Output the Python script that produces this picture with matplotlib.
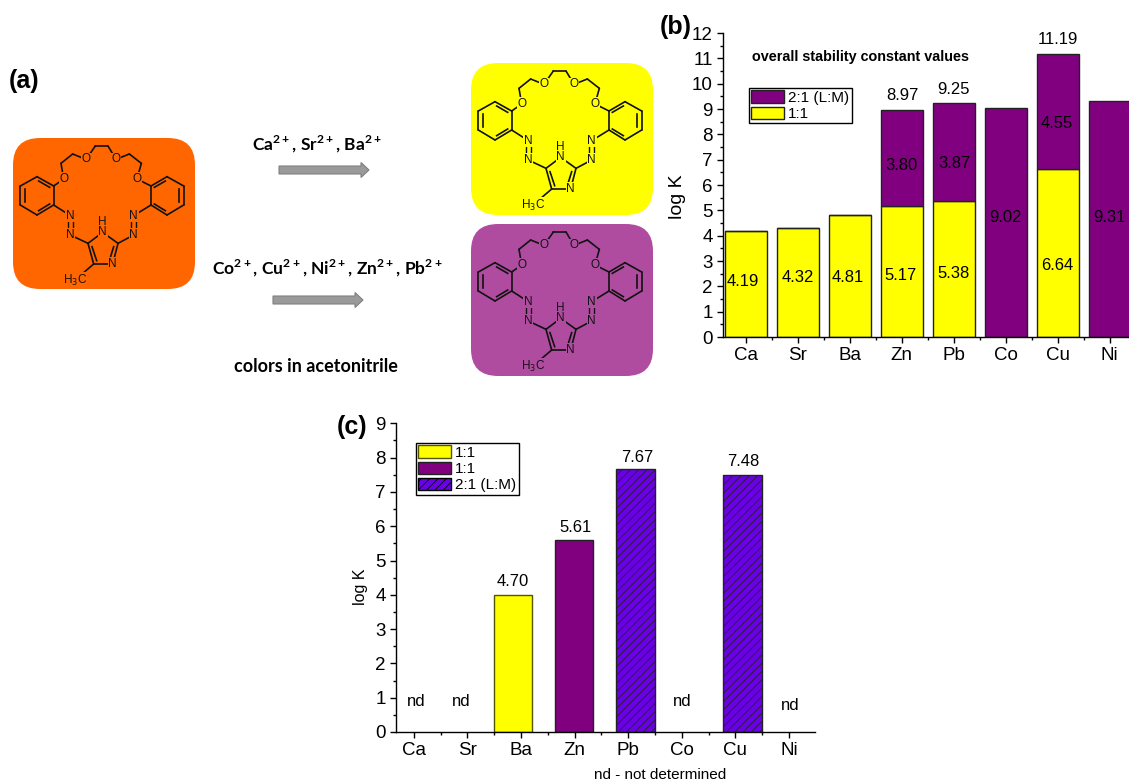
import matplotlib
matplotlib.use('Agg')
import matplotlib.pyplot as plt
from matplotlib.patches import FancyBboxPatch, FancyArrow, Patch
from matplotlib.ticker import FixedLocator, NullFormatter

plt.rcParams['font.family'] = ['Liberation Sans', 'DejaVu Sans']
plt.rcParams['hatch.linewidth'] = 0.6
plt.rcParams['mathtext.fontset'] = 'custom'
plt.rcParams['mathtext.bf'] = 'Lato:bold'
plt.rcParams['mathtext.rm'] = 'Lato:bold'

W, H = 1129, 781

metals = ['Ca', 'Sr', 'Ba', 'Zn', 'Pb', 'Co', 'Cu', 'Ni']

# panel b, stacked log K values
b_first = [4.19, 4.32, 4.81, 5.17, 5.38, 0, 6.64, 0]
b_second = [0, 0, 0, 3.80, 3.87, 9.02, 4.55, 9.31]
b_totals = [None, None, None, 8.97, 9.25, None, 11.19, None]

# panel c, only four metals were determined
c_names = ['Ba', 'Zn', 'Pb', 'Cu']
c_slots = [1.85, 2.99, 4.14, 6.13]
c_heights = [4.0, 5.61, 7.67, 7.48]
c_labels = ['4.70', '5.61', '7.67', '7.48']
c_nd = ['Ca', 'Sr', 'Co', 'Ni']

YELLOW = '#ffff00'
PURPLE = '#800080'
VIOLET = '#6a00e6'


def axes_px(left, top, right, bottom):
    return fig.add_axes([left / W, 1 - bottom / H, (right - left) / W, (bottom - top) / H])


def style_axes(ax, ymax, size):
    for side in ['top', 'right']:
        ax.spines[side].set_visible(False)
    for side in ['left', 'bottom']:
        ax.spines[side].set_linewidth(1.0)
    ax.set_ylim(0, ymax)
    ax.set_xticks(range(len(metals)))
    ax.set_xticklabels(metals)
    ax.set_yticks(range(ymax + 1))
    ax.yaxis.set_minor_locator(FixedLocator([i + 0.5 for i in range(ymax)]))
    ax.xaxis.set_minor_locator(FixedLocator([i + 0.5 for i in range(-1, len(metals))]))
    ax.xaxis.set_minor_formatter(NullFormatter())
    ax.tick_params(which='major', length=4.5, width=1.0, labelsize=size, pad=3)
    ax.tick_params(which='minor', length=2.2, width=1.0)


fig = plt.figure(figsize=(W / 100, H / 100), dpi=100)

# panel b
ax_b = axes_px(723, 33, 1129, 337)
x = list(range(len(metals)))
ax_b.bar(x, b_first, width=0.81, color=YELLOW, edgecolor='#222222', linewidth=1.0)
ax_b.bar(x, b_second, width=0.81, bottom=b_first, color=PURPLE, edgecolor='#222222', linewidth=1.0)
ax_b.set_xlim(-0.436, 7.37)
style_axes(ax_b, 12, 13.5)
ax_b.spines['bottom'].set_zorder(5)

# panel c
ax_c = axes_px(396, 423.3, 815.3, 732)
c_idx = {'Ba': (YELLOW, None), 'Zn': (PURPLE, None), 'Pb': (VIOLET, '////'), 'Cu': (VIOLET, '////')}
for name, slot, h in zip(c_names, c_slots, c_heights):
    col, hatch = c_idx[name]
    edge = '#555500' if name == 'Ba' else '#222222'
    ax_c.bar(slot, h, width=0.72, color=col, edgecolor=edge, hatch=hatch, linewidth=1.0)
ax_c.set_xlim(-0.33, 7.49)
style_axes(ax_c, 9, 13.5)

# overlay in picture pixels for panel a and all free text
ov = fig.add_axes([0, 0, 1, 1], zorder=10)
ov.set_xlim(0, W)
ov.set_ylim(H, 0)
ov.axis('off')


def label(px, py, s, **kw):
    kw.setdefault('ha', 'center')
    kw.setdefault('va', 'center')
    kw.setdefault('fontsize', 12)
    ov.text(px, py, s, **kw)


# value labels panel b
b_low_pos = [(743, 281), (798, 277), (848, 278), (901, 275), (954, 274), (1005, 217), (1057, 266), (1109, 217)]
vals = [b_first[i] if b_first[i] else b_second[i] for i in range(8)]
for v, (px, py) in zip(vals, b_low_pos):
    label(px, py, f'{v:.2f}')
b_up_pos = {3: (901, 165), 4: (954, 163), 6: (1057, 123)}
for i, (px, py) in b_up_pos.items():
    label(px, py, f'{b_second[i]:.2f}')
b_top_pos = {3: (902, 96), 4: (953, 89), 6: (1058, 40)}
for i, (px, py) in b_top_pos.items():
    label(px, py, f'{b_totals[i]:.2f}')

# value labels panel c
c_lab_pos = [(513, 581), (576, 527), (637, 457), (743, 462)]
for s, (px, py) in zip(c_labels, c_lab_pos):
    label(px, py, s)
c_nd_pos = [(416, 701), (461, 701), (682, 702), (790, 706)]
for s, (px, py) in zip(c_nd, c_nd_pos):
    label(px, py, 'nd')

label(24, 81, '(a)', fontsize=18, fontweight='bold')
label(676, 27, '(b)', fontsize=18, fontweight='bold')
label(352, 427, '(c)', fontsize=18, fontweight='bold')
label(677, 197, 'log K', fontsize=14, rotation=90)
label(361, 587, 'log K', fontsize=11.5, rotation=90)
label(860, 57, 'overall stability constant values', fontsize=10.4, fontweight='bold')
label(660, 775, 'nd - not determined', fontsize=11)

# legends
leg_kw = dict(loc='upper left', bbox_transform=fig.transFigure, fancybox=False, framealpha=1, edgecolor='black',
              fontsize=11, handlelength=2.15, handleheight=0.85, handletextpad=0.25, labelspacing=0.12,
              borderpad=0.16, borderaxespad=0)
hb = [Patch(facecolor=PURPLE, edgecolor='#222222', label='2:1 (L:M)'),
      Patch(facecolor=YELLOW, edgecolor='#222222', label='1:1')]
hc = [Patch(facecolor=YELLOW, edgecolor='#555500', label='1:1'),
      Patch(facecolor=PURPLE, edgecolor='#222222', label='1:1'),
      Patch(facecolor=VIOLET, edgecolor='black', hatch='////', label='2:1 (L:M)')]
ov.legend(handles=hc, bbox_to_anchor=(416 / W, 1 - 443 / H), **leg_kw)
ov.add_artist(ov.get_legend())
ov.legend(handles=hb, bbox_to_anchor=(749 / W, 1 - 88 / H), **leg_kw)

# panel a scheme
bond_pts = {
    'r1': (105, 140), 'r2': (155, 168), 'r3': (155, 225), 'r4': (105, 255), 'r5': (55, 225), 'r6': (55, 168),
    's1': (495, 140), 's2': (545, 168), 's3': (545, 225), 's4': (495, 255), 's5': (447, 225), 's6': (447, 168),
    'O1': (185, 147), 'c1': (177, 100), 'c2': (212, 72), 'O2': (252, 88), 'c3': (280, 48), 'c4': (318, 48),
    'O3': (342, 88), 'c5': (382, 72), 'c6': (418, 100), 'O4': (405, 147),
    'N1': (205, 257), 'N2': (205, 315), 'N3': (395, 257), 'N4': (395, 315),
    'i1': (258, 340), 'i2': (302, 307), 'i3': (348, 340), 'i4': (332, 402), 'i5': (275, 402), 'me': (240, 432),
}
single = [('r1', 'r2'), ('r2', 'r3'), ('r3', 'r4'), ('r4', 'r5'), ('r5', 'r6'), ('r6', 'r1'),
          ('s1', 's2'), ('s2', 's3'), ('s3', 's4'), ('s4', 's5'), ('s5', 's6'), ('s6', 's1'),
          ('r2', 'O1'), ('O1', 'c1'), ('c1', 'c2'), ('c2', 'O2'), ('O2', 'c3'), ('c3', 'c4'), ('c4', 'O3'),
          ('O3', 'c5'), ('c5', 'c6'), ('c6', 'O4'), ('O4', 's6'),
          ('r3', 'N1'), ('N2', 'i1'), ('s5', 'N3'), ('N4', 'i3'),
          ('i1', 'i2'), ('i2', 'i3'), ('i3', 'i4'), ('i4', 'i5'), ('i5', 'i1'), ('i5', 'me')]
inner = [((70, 178), (70, 215)), ((110, 153), (143, 172)), ((110, 242), (143, 222)),
         ((530, 178), (530, 215)), ((490, 153), (457, 172)), ((490, 242), (457, 222)),
         ((270, 350), (284, 392)), ((335, 350), (322, 392))]
atoms = ['O1', 'O2', 'O3', 'O4', 'N1', 'N2', 'N3', 'N4', 'i2', 'i4']
atom_text = {'O1': 'O', 'O2': 'O', 'O3': 'O', 'O4': 'O', 'N1': 'N', 'N2': 'N', 'N3': 'N', 'N4': 'N', 'i2': 'N', 'i4': 'N'}


def molecule(ox, oy, bg):
    def p(q):
        return ox + q[0] / 3, oy + q[1] / 3
    for a, b in single:
        pa, pb = p(bond_pts[a]), p(bond_pts[b])
        ov.plot([pa[0], pb[0]], [pa[1], pb[1]], color='#111111', lw=1.2, zorder=3, solid_capstyle='round')
    for a, b in inner:
        pa, pb = p(a), p(b)
        ov.plot([pa[0], pb[0]], [pa[1], pb[1]], color='#111111', lw=1.2, zorder=3)
    # azo double bonds
    for xx in [198, 212, 388, 402]:
        pa, pb = p((xx, 272)), p((xx, 300))
        ov.plot([pa[0], pb[0]], [pa[1], pb[1]], color='#111111', lw=1.0, zorder=3)
    for k in atoms:
        px, py = p(bond_pts[k])
        ov.text(px, py, atom_text[k], fontsize=8.5, ha='center', va='center', color='#111111', zorder=5,
                bbox=dict(facecolor=bg, edgecolor='none', pad=0.4))
    px, py = p((302, 275))
    ov.text(px, py, 'H', fontsize=8.5, ha='center', va='center', color='#111111', zorder=5)
    px, py = p((218, 450))
    ov.text(px, py, 'H$_{3}$C', fontsize=8.5, ha='center', va='center', color='#111111', zorder=5,
            math_fontfamily='dejavusans', bbox=dict(facecolor=bg, edgecolor='none', pad=0.2))


boxes = [(13, 138, 182, 151, '#ff6600', 2, 130),
         (471, 63, 182, 152, YELLOW, 460, 55),
         (471, 224, 182, 152, '#b04ca0', 460, 216)]
for bx, by, bw, bh, col, ox, oy in boxes:
    ov.add_patch(FancyBboxPatch((bx, by), bw, bh, boxstyle='round,pad=0,rounding_size=27',
                                facecolor=col, edgecolor='none', zorder=1))
    molecule(ox, oy, col)

for ax0, ay in [(279, 170), (273, 300)]:
    ov.add_patch(FancyArrow(ax0, ay, 90, 0, width=8, head_width=15, head_length=8, length_includes_head=True,
                            facecolor='#9a9a9a', edgecolor='#808080', linewidth=0.8, zorder=2))

schem = {'family': ['Lato', 'DejaVu Sans'], 'fontweight': 'bold', 'fontsize': 12.5}
label(317, 144, 'Ca$^{2+}$, Sr$^{2+}$, Ba$^{2+}$', **schem)
label(327, 268, 'Co$^{2+}$, Cu$^{2+}$, Ni$^{2+}$, Zn$^{2+}$, Pb$^{2+}$', **schem)
label(316, 366, 'colors in acetonitrile', family=['Lato', 'DejaVu Sans'], fontweight='bold', fontsize=13)

fig.savefig('out.png', dpi=100)
